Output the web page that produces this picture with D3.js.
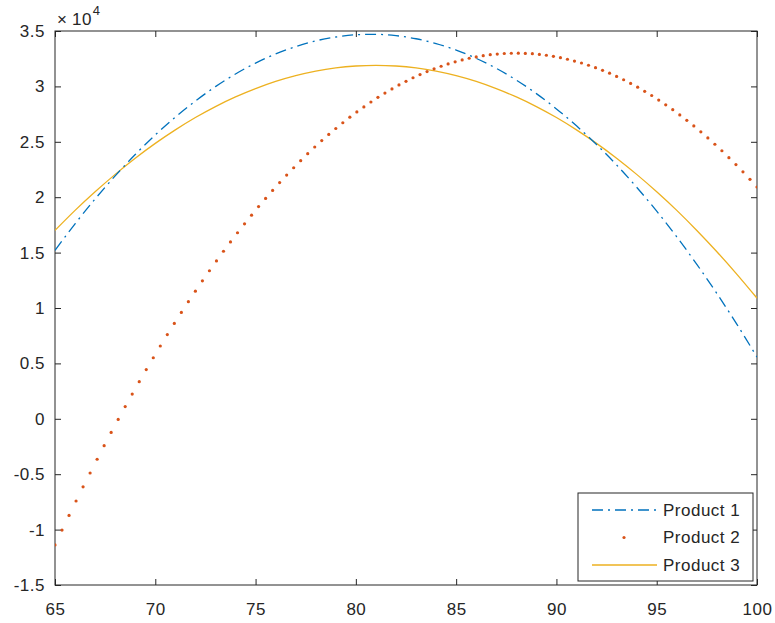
<!DOCTYPE html>
<html>
<head>
<meta charset="utf-8">
<script src="https://cdn.jsdelivr.net/npm/d3@7"></script>
<style>
    body { margin: 0; background: #fff; }
    svg { display: block; font-family: "Liberation Sans", Arial, sans-serif; }
    .axis text { fill: #262626; font-size: 17px; letter-spacing: 0.5px; }
    .axis line { stroke: #262626; }
</style>
</head>
<body>
<div id="chart"></div>
<script>
// x positions of the two line series (one per year)
var xLine = [65, 66, 67, 68, 69, 70, 71, 72, 73, 74, 75, 76, 77, 78, 79, 80, 81, 82,
    83, 84, 85, 86, 87, 88, 89, 90, 91, 92, 93, 94, 95, 96, 97, 98, 99, 100];

var product1 = [15200, 17600, 19840, 21920, 23850, 25620, 27230, 28680, 29980, 31120,
    32100, 32930, 33590, 34110, 34460, 34660, 34700, 34580, 34300, 33870, 33280, 32530,
    31630, 30570, 29350, 27970, 26440, 24750, 22910, 20900, 18740, 16420, 13940, 11310,
    8520, 5570];

var product3 = [17000, 18810, 20490, 22060, 23520, 24860, 26080, 27190, 28180, 29050,
    29800, 30450, 30970, 31380, 31670, 31840, 31900, 31840, 31670, 31380, 30970, 30450,
    29800, 29050, 28180, 27190, 26080, 24860, 23520, 22060, 20490, 18810, 17000, 15080,
    13040, 10890];

// product 2 is drawn as dots, sampled more densely
var xDots = [65.00, 65.35, 65.70, 66.05, 66.40, 66.75, 67.10, 67.45, 67.80, 68.15,
    68.50, 68.85, 69.20, 69.55, 69.90, 70.25, 70.60, 70.95, 71.30, 71.65,
    72.00, 72.35, 72.70, 73.05, 73.40, 73.75, 74.10, 74.45, 74.80, 75.15,
    75.50, 75.85, 76.20, 76.55, 76.90, 77.25, 77.60, 77.95, 78.30, 78.65,
    79.00, 79.35, 79.70, 80.05, 80.40, 80.75, 81.10, 81.45, 81.80, 82.15,
    82.50, 82.85, 83.20, 83.55, 83.90, 84.25, 84.60, 84.95, 85.30, 85.65,
    86.00, 86.35, 86.70, 87.05, 87.40, 87.75, 88.10, 88.45, 88.80, 89.15,
    89.50, 89.85, 90.20, 90.55, 90.90, 91.25, 91.60, 91.95, 92.30, 92.65,
    93.00, 93.35, 93.70, 94.05, 94.40, 94.75, 95.10, 95.45, 95.80, 96.15,
    96.50, 96.85, 97.20, 97.55, 97.90, 98.25, 98.60, 98.95, 99.30, 99.65, 100.00];

var product2 = [-11380, -10040, -8720, -7420, -6140, -4890, -3650, -2430, -1230, -60,
    1100, 2230, 3350, 4440, 5510, 6570, 7600, 8610, 9600, 10570,
    11520, 12450, 13360, 14250, 15120, 15960, 16790, 17600, 18380, 19150,
    19890, 20610, 21320, 22000, 22660, 23300, 23930, 24530, 25110, 25670,
    26200, 26720, 27220, 27700, 28150, 28590, 29010, 29400, 29770, 30130,
    30460, 30780, 31070, 31340, 31590, 31820, 32030, 32220, 32390, 32540,
    32660, 32770, 32860, 32920, 32970, 32990, 33000, 32980, 32950, 32890,
    32810, 32710, 32590, 32450, 32290, 32110, 31910, 31690, 31450, 31190,
    30900, 30600, 30270, 29930, 29560, 29180, 28770, 28340, 27900, 27430,
    26940, 26430, 25900, 25350, 24780, 24190, 23570, 22940, 22290, 21610, 20920];

var seriesNames = ["Product 1", "Product 2", "Product 3"];

// ticks
var xTicks = [65, 70, 75, 80, 85, 90, 95, 100];
var yTicks = [-15000, -10000, -5000, 0, 5000, 10000, 15000, 20000, 25000, 30000, 35000];
var yTickLabels = ["-1.5", "-1", "-0.5", "0", "0.5", "1", "1.5", "2", "2.5", "3", "3.5"];

var margin = { top: 31, right: 18, bottom: 38, left: 55 },
    width = 775 - margin.left - margin.right,
    height = 623 - margin.top - margin.bottom;

var blue = "#0072BD", orange = "#D95319", yellow = "#EDB120", axisColor = "#262626";

var svg = d3.select("#chart").append("svg")
    .attr("width", 775)
    .attr("height", 623);

var g = svg.append("g")
    .attr("transform", "translate(" + margin.left + "," + margin.top + ")");

var x = d3.scaleLinear().domain([65, 100]).range([0, width]);
var y = d3.scaleLinear().domain([-15000, 35000]).range([height, 0]);

// clip so lines stop at the box
g.append("clipPath").attr("id", "clip")
    .append("rect").attr("width", width).attr("height", height);

// axes, ticks pointing inward like matlab
var tick = 6;
var yLabel = function (d) { return yTickLabels[yTicks.indexOf(d)]; };

g.append("g").attr("class", "axis")
    .attr("transform", "translate(0," + height + ")")
    .call(d3.axisBottom(x).tickValues(xTicks).tickSizeInner(-tick).tickSizeOuter(0).tickPadding(18))
    .call(function (s) { s.select(".domain").remove(); });

g.append("g").attr("class", "axis")
    .call(d3.axisTop(x).tickValues(xTicks).tickSizeInner(-tick).tickSizeOuter(0).tickFormat(""))
    .call(function (s) { s.select(".domain").remove(); });

g.append("g").attr("class", "axis")
    .call(d3.axisLeft(y).tickValues(yTicks).tickSizeInner(-tick).tickSizeOuter(0).tickPadding(10).tickFormat(yLabel))
    .call(function (s) { s.select(".domain").remove(); });

g.append("g").attr("class", "axis")
    .attr("transform", "translate(" + width + ",0)")
    .call(d3.axisRight(y).tickValues(yTicks).tickSizeInner(-tick).tickSizeOuter(0).tickFormat(""))
    .call(function (s) { s.select(".domain").remove(); });

g.selectAll(".axis text").attr("fill", axisColor);

// box
g.append("rect")
    .attr("width", width)
    .attr("height", height)
    .attr("fill", "none")
    .attr("stroke", axisColor)
    .attr("stroke-width", 1);

// x10^4 exponent label
var expo = svg.append("text")
    .attr("x", margin.left + 2)
    .attr("y", 25)
    .attr("fill", axisColor)
    .style("font-size", "17px");
expo.append("tspan").text("\u00d7").style("font-size", "17px");
expo.append("tspan").attr("dx", 5).style("letter-spacing", "0.5px").text("10");
expo.append("tspan").attr("dx", 1).attr("dy", -10).style("font-size", "13px").text("4");

// lines
var plot = g.append("g").attr("clip-path", "url(#clip)");

var line = d3.line()
    .x(function (d) { return x(d[0]); })
    .y(function (d) { return y(d[1]); })
    .curve(d3.curveMonotoneX);

plot.append("path")
    .datum(d3.zip(xLine, product3))
    .attr("d", line)
    .attr("fill", "none")
    .attr("stroke", yellow)
    .attr("stroke-width", 1.3);

plot.append("path")
    .datum(d3.zip(xLine, product1))
    .attr("d", line)
    .attr("fill", "none")
    .attr("stroke", blue)
    .attr("stroke-width", 1.3)
    .attr("stroke-dasharray", "11,5,2,5");

plot.selectAll("circle.p2")
    .data(d3.zip(xDots, product2))
    .enter().append("circle")
    .attr("class", "p2")
    .attr("cx", function (d) { return x(d[0]); })
    .attr("cy", function (d) { return y(d[1]); })
    .attr("r", 1.6)
    .attr("fill", orange);

// legend
var legend = svg.append("g")
    .attr("transform", "translate(578,493)");

legend.append("rect")
    .attr("width", 175)
    .attr("height", 88)
    .attr("fill", "#fff")
    .attr("stroke", axisColor)
    .attr("stroke-width", 1);

var rows = legend.selectAll("g.row")
    .data(seriesNames)
    .enter().append("g")
    .attr("class", "row")
    .attr("transform", function (d, i) { return "translate(0," + (17 + i * 27.5) + ")"; });

rows.each(function (d, i) {
    var r = d3.select(this);
    if (i === 1) {
        r.append("circle").attr("cx", 46).attr("cy", 0).attr("r", 1.6).attr("fill", orange);
    } else {
        r.append("line")
            .attr("x1", 14).attr("x2", 79)
            .attr("stroke", i === 0 ? blue : yellow)
            .attr("stroke-width", 1.3)
            .attr("stroke-dasharray", i === 0 ? "11,5,2,5" : null);
    }
    r.append("text")
        .attr("x", 85)
        .attr("dy", "0.35em")
        .attr("fill", axisColor)
        .style("font-size", "17px")
        .style("letter-spacing", "0.5px")
        .text(d);
});
</script>
</body>
</html>
